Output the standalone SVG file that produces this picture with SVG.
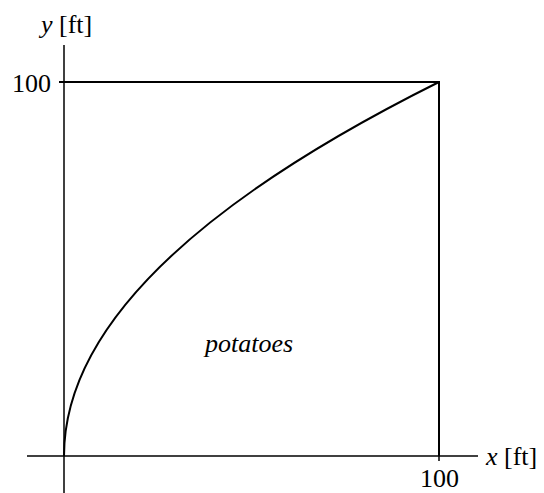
<svg xmlns="http://www.w3.org/2000/svg" width="544" height="493" viewBox="0 0 544 493">
<style>
.ln{stroke:#000;stroke-width:2;fill:none}
.ax{stroke:#000;stroke-width:1.5;fill:none}
text{font-family:"Liberation Serif","Times New Roman",serif;font-size:26px;fill:#000}
.it{font-style:italic}
</style>
<rect width="544" height="493" fill="#fff"/>
<g id="axes">
<line class="ax" x1="27" y1="456" x2="478" y2="456"/>
<line class="ax" x1="64" y1="45" x2="64" y2="493"/>
</g>
<g id="box">
<polyline class="ln" points="59,82 439,82 439,456"/>
<line class="ax" x1="439" y1="456" x2="439" y2="461"/>
</g>
<g id="curve">
<path class="ln" d="M64,456 Q64,269 439,82"/>
</g>
<g id="labels">
<text x="41" y="33"><tspan class="it">y</tspan> [ft]</text>
<text x="12" y="92">100</text>
<text x="486" y="465"><tspan class="it">x</tspan> [ft]</text>
<text x="420" y="487">100</text>
<text class="it" x="205" y="352">potatoes</text>
</g>
</svg>
